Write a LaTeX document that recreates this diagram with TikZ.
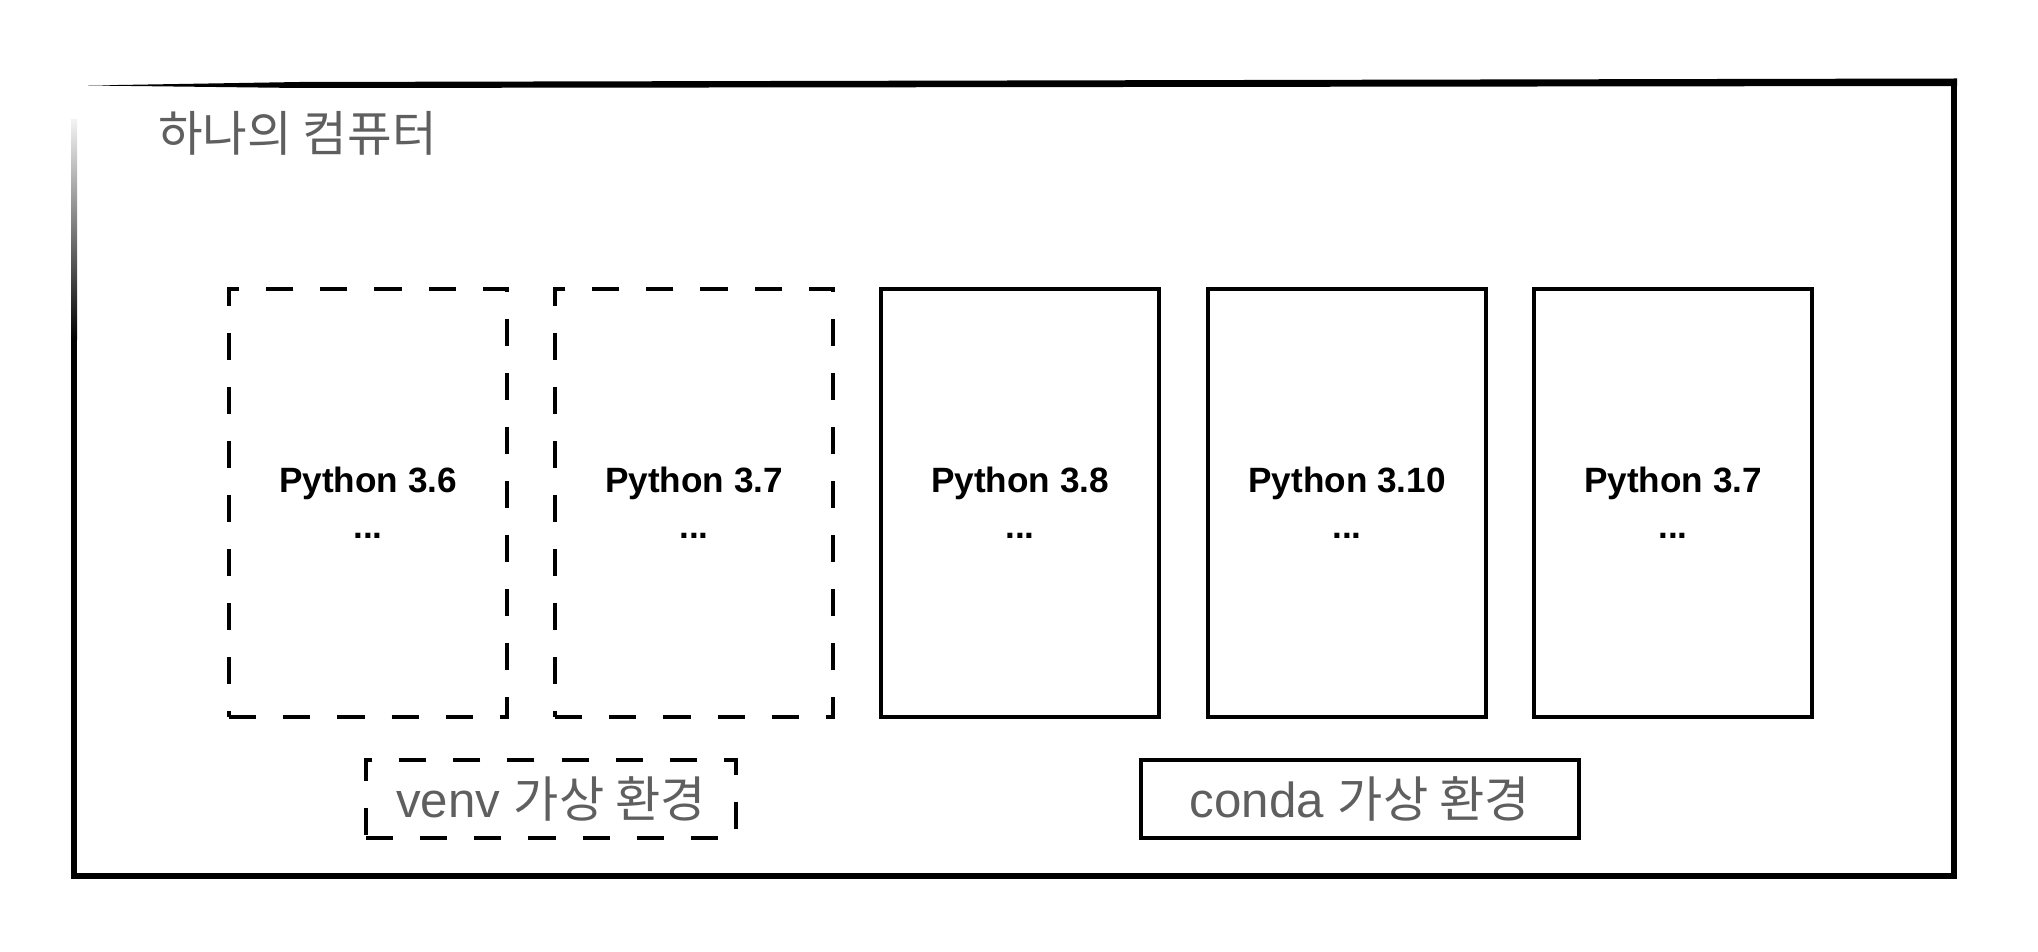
\documentclass[tikz,border=0pt]{standalone}
\usepackage{fontspec}
\setmainfont{Liberation Sans}
\newfontfamily\kr{Noto Sans CJK KR}
\usepackage{tikz}
\usetikzlibrary{positioning}

\definecolor{txtgray}{RGB}{95,95,95}

\begin{document}
\begin{tikzpicture}[x=0.01cm, y=-0.01cm,
	nosep/.style={inner sep=0pt, outer sep=0pt},
	envbox/.style={draw=black, line width=1.1pt, minimum width=2.77cm, minimum height=4.28cm, align=center, nosep,
		font=\bfseries\fontsize{10}{13}\selectfont},
	venvbox/.style={envbox, dash pattern=on 0.27cm off 0.27cm},
	condabox/.style={envbox},
	tagbox/.style={draw=black, line width=1.1pt, minimum height=0.78cm, nosep, text=txtgray,
		font=\fontsize{14}{16}\selectfont}
]
\useasboundingbox (0,0) rectangle (2038,952);

% Outer frame (sketchy: tapered top, fading left side)
\fill[black] (88,85.5) -- (300,82) -- (1957,78.5) -- (1957,86) -- (300,88) -- cycle;
\shade[top color=gray!10, bottom color=black] (71,120) rectangle (77,340);
\fill[black] (71,339) rectangle (77,879);
\draw[black, line width=1.7pt] (1954,79) -- (1954,876) -- (74,876);

% Title
\node[nosep, anchor=west, text=txtgray, font=\kr\fontsize{13.8}{16}\selectfont] (title) at (158,133) {하나의 컴퓨터};

% Python environments
\node[venvbox] (py1) at (368,503) {Python 3.6\\...};
\node[venvbox] (py2) at (694,503) {Python 3.7\\...};
\node[condabox] (py3) at (1020,503) {Python 3.8\\...};
\node[condabox] (py4) at (1347,503) {Python 3.10\\...};
\node[condabox] (py5) at (1673,503) {Python 3.7\\...};

% Legend boxes
\node[tagbox, minimum width=3.69cm, dash pattern=on 0.27cm off 0.27cm] (venv) at (551,799) {venv {\kr 가상 환경}};
\node[tagbox, minimum width=4.37cm] (conda) at (1360,799) {conda {\kr 가상 환경}};

\end{tikzpicture}
\end{document}
